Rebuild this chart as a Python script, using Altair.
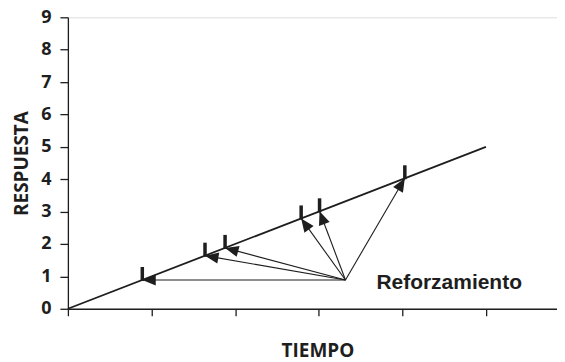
import math
import altair as alt
import pandas as pd

# data
line_x = [0, 5]
line_y = [0, 5]
target_x = [0.89, 1.64, 1.88, 2.79, 3.01, 4.03]   # points on the line y = x
origin_x = 3.32
origin_y = 0.89
label_text = "Reforzamiento"
label_x = 3.69
label_y = 0.62
y_ticks = list(range(0, 10))
x_ticks = [0, 1, 2, 3, 4, 5]

W, H = 490, 292
XMAX, YMAX = 5.85, 9
px_x = W / XMAX
px_y = H / YMAX
INK = "#1e1e1e"

line_df = pd.DataFrame({"x": line_x, "y": line_y})
tg = pd.DataFrame({"x": target_x, "y": target_x})
tg["ox"] = origin_x
tg["oy"] = origin_y
ang = []
for tx, ty in zip(target_x, target_x):
    dx = (tx - origin_x) * px_x
    dy = -(ty - origin_y) * px_y
    a = math.degrees(math.atan2(dx, -dy))
    if a < 0:
        a += 360
    ang.append(a)
tg["ang"] = ang
lab = pd.DataFrame({"x": [label_x], "y": [label_y], "t": [label_text]})

xs = alt.Scale(domain=[0, XMAX], nice=False, zero=False)
ys = alt.Scale(domain=[0, YMAX], nice=False, zero=False)

xax = alt.Axis(values=x_ticks, labels=False, grid=False, domainColor=INK, tickColor=INK,
               tickSize=7, domainWidth=1.3, tickWidth=1.3,
               title="TIEMPO", titleFont="Open Sans", titleFontSize=19, titleFontWeight="bold",
               titleColor=INK, titleX=250, titleY=42, titleBaseline="middle", titleAlign="center")
yax = alt.Axis(values=y_ticks, grid=False, domainColor=INK, tickColor=INK, tickSize=8,
               domainWidth=1.3, tickWidth=1.3, labelOverlap=False,
               labelFont="Open Sans", labelFontSize=18, labelFontWeight="bold", labelColor=INK,
               labelPadding=9,
               title="RESPUESTA", titleFont="Open Sans", titleFontSize=19, titleFontWeight="bold",
               titleColor=INK, titleAngle=-90, titleX=-46, titleY=146,
               titleBaseline="middle", titleAlign="center")


def X(f):
    return alt.X(f, scale=xs, axis=xax, title="TIEMPO")


def Y(f):
    return alt.Y(f, scale=ys, axis=yax, title="RESPUESTA")


main = alt.Chart(line_df).mark_line(color=INK, strokeWidth=1.8).encode(
    x=X("x:Q"), y=Y("y:Q"),
)

shafts = alt.Chart(tg).mark_rule(color=INK, strokeWidth=1.1).encode(
    x=X("ox:Q"), y=Y("oy:Q"), x2="x:Q", y2="y:Q",
)

heads = alt.Chart(tg).mark_point(
    shape="M0,0L-0.42,1L0.42,1Z", filled=True, color=INK, opacity=1, size=729, strokeWidth=0
).encode(
    x=X("x:Q"), y=Y("y:Q"), angle=alt.Angle("ang:Q", scale=None),
)

bars = alt.Chart(tg).mark_rule(color=INK, strokeWidth=3.5, y2Offset=-13, yOffset=1).encode(
    x=X("x:Q"), y=Y("y:Q"), y2="y:Q",
)

text = alt.Chart(lab).mark_text(
    font="Liberation Sans", fontSize=21, fontWeight="bold", color=INK,
    align="left", baseline="alphabetic",
).encode(x=X("x:Q"), y=Y("y:Q"), text="t:N")

chart = alt.layer(main, shafts, heads, bars, text).properties(
    width=W, height=H,
    autosize=alt.AutoSizeParams(type="none"),
    padding={"left": 60, "top": 9, "right": 0, "bottom": 53},
).configure_view(stroke=None).configure(background="white")

chart.save("out.html", embed_options={"renderer": "svg", "actions": False})
